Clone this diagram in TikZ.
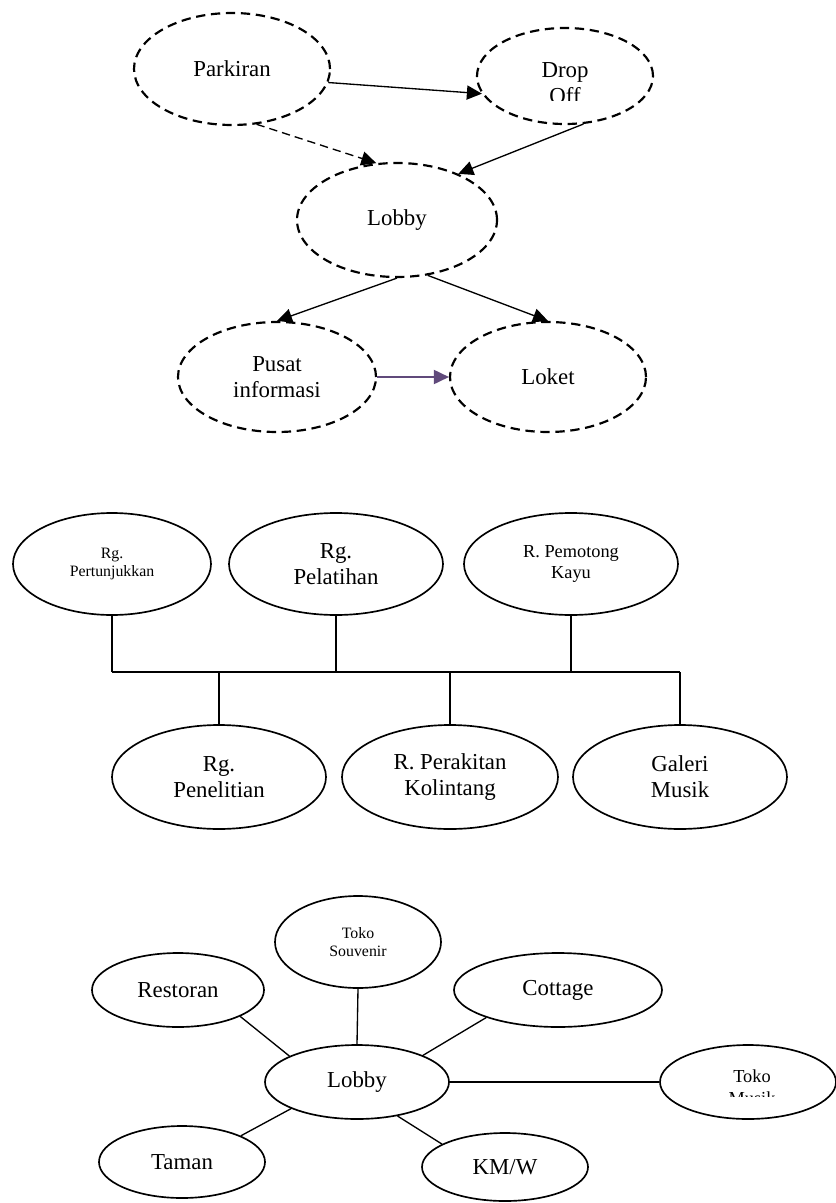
\documentclass[tikz,border=0pt]{standalone}
\usepackage{fontspec}
\setmainfont{Liberation Serif}
\usetikzlibrary{shapes.geometric,arrows.meta}
\definecolor{ungu}{RGB}{96,74,123}

\begin{document}
\begin{tikzpicture}[x=0.6pt, y=-0.6pt, line width=0.8pt,
    big/.style = {font=\fontsize{13.7}{15.5}\selectfont, align=center},
    mid/.style = {font=\fontsize{11}{13}\selectfont, align=center},
    kecil/.style = {font=\fontsize{9.5}{11}\selectfont, align=center},
    sz/.style 2 args = {minimum width=#1*0.6pt, minimum height=#2*0.6pt},
    dashell/.style = {draw, ellipse, dash pattern=on 5.6pt off 3.4pt, line width=1.3pt, inner sep=0pt, big},
    ell/.style = {draw, ellipse, line width=1pt, inner sep=0pt, big},
    arr/.style = {-{Triangle[length=9pt, width=8.5pt]}}]
    \useasboundingbox (0,0) rectangle (836,1203);

    % alur kedatangan
    \node[dashell, sz={196}{112}] (parkiran) at (232,69) {Parkiran};
    \node[dashell, sz={176}{96}] (dropoff) at (565,76) {};
    \begin{scope}
        \clip (470,20) rectangle (660,101);
        \node[big] (droptext) at (565,83) {Drop\\Off};
    \end{scope}
    \node[dashell, sz={200}{114}] (lobby1) at (397,220) {Lobby};
    \node[dashell, sz={198}{110}] (pusat) at (277,377) {Pusat\\informasi};
    \node[dashell, sz={196}{110}] (loket) at (548,377) {Loket};
    \draw[arr] (parkiran.-8) -- (dropoff.192);
    \draw[arr, dash pattern=on 5pt off 3pt] (parkiran.-66) -- (lobby1.110);
    \draw[arr] (dropoff.-69) -- (lobby1.37);
    \draw[arr] (lobby1.south) -- (pusat.north);
    \draw[arr] (lobby1.-61) -- (loket.north);
    \draw[arr, ungu] (pusat.east) -- (loket.west);

    % ruang kegiatan
    \node[ell, kecil, sz={198}{102}] (pertunjukan) at (112,564) {Rg.\\Pertunjukkan};
    \node[ell, sz={214}{102}] (pelatihan) at (336,564) {Rg.\\Pelatihan};
    \node[ell, mid, sz={214}{102}] (pemotong) at (571,564) {R. Pemotong\\Kayu};
    \node[ell, sz={214}{104}] (penelitian) at (219,777) {Rg.\\Penelitian};
    \node[ell, sz={216}{104}] (perakitan) at (450,777) {R. Perakitan\\Kolintang};
    \node[ell, sz={214}{104}] (galeri) at (680,777) {Galeri\\Musik};
    \coordinate (busL) at (112,672);
    \coordinate (busR) at (680,672);
    \draw (busL) -- (busR);
    \draw (pertunjukan.south) -- (pertunjukan.south |- busL);
    \draw (pelatihan.south) -- (pelatihan.south |- busL);
    \draw (pemotong.south) -- (pemotong.south |- busL);
    \draw (penelitian.north) -- (penelitian.north |- busL);
    \draw (perakitan.north) -- (perakitan.north |- busL);
    \draw (galeri.north) -- (galeri.north |- busL);

    % fasilitas penunjang
    \node[ell, kecil, sz={166}{92}] (souvenir) at (358,942) {Toko\\Souvenir};
    \node[ell, sz={172}{74}] (restoran) at (178,990) {Restoran};
    \node[ell, sz={208}{74}] (cottage) at (558,990) {Cottage};
    \node[ell, sz={184}{74}] (lobby2) at (357,1082) {Lobby};
    \node[ell, sz={176}{74}] (tokomusik) at (748,1082) {};
    \begin{scope}
        \clip (660,1040) rectangle (836,1096);
        \node[mid] (musiktext) at (752,1087) {Toko\\Musik};
    \end{scope}
    \node[ell, sz={166}{72}] (taman) at (182,1162) {Taman};
    \node[ell, sz={166}{68}] (kmw) at (505,1167) {KM/W};
    \draw (restoran.-23) -- (lobby2.159);
    \draw (souvenir.south) -- (lobby2.north);
    \draw (cottage.201) -- (lobby2.22);
    \draw (lobby2.east) -- (tokomusik.west);
    \draw (lobby2.202) -- (taman.24);
    \draw (lobby2.-40) -- (kmw.160);
\end{tikzpicture}
\end{document}
